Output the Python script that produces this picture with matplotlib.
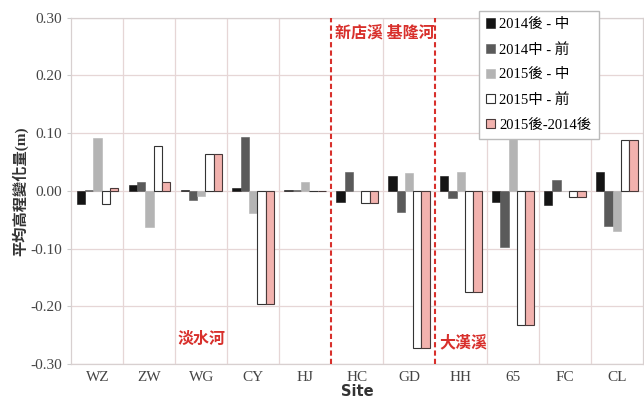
import numpy as np
import matplotlib.pyplot as plt
from matplotlib.ticker import MultipleLocator, FixedLocator

plt.rcParams['font.family'] = ['Liberation Serif', 'Noto Sans CJK TC']

# sites along the rivers
sites = ['WZ', 'ZW', 'WG', 'CY', 'HJ', 'HC', 'GD', 'HH', '65', 'FC', 'CL']

# mean elevation change (m) for each period
d14_late_mid = [-0.023, 0.010, 0.001, 0.005, 0.002, -0.019, 0.026, 0.026, -0.020, -0.024, 0.032]
d14_mid_pre = [0.002, 0.016, -0.016, 0.0925, 0.001, 0.032, -0.036, -0.012, -0.097, 0.019, -0.061]
d15_late_mid = [0.091, -0.063, -0.009, -0.039, 0.016, 0.0, 0.031, 0.032, 0.092, 0.0, -0.069]
d15_mid_pre = [-0.023, 0.077, 0.063, -0.196, 0.0, -0.021, -0.273, -0.176, -0.232, -0.010, 0.088]
d15_14_late = [0.005, 0.016, 0.063, -0.196, 0.0, -0.021, -0.273, -0.176, -0.232, -0.010, 0.088]

series = [d14_late_mid, d14_mid_pre, d15_late_mid, d15_mid_pre, d15_14_late]
labels = ['2014後 - 中', '2014中 - 前', '2015後 - 中', '2015中 - 前', '2015後-2014後']
faces = ['#141414', '#5a5a5a', '#b4b4b4', '#ffffff', '#f2b2ae']
edges = ['#141414', '#5a5a5a', '#b4b4b4', '#333333', '#4a3a3a']

red = '#d8302c'

fig = plt.figure(figsize=(6.44, 3.98), dpi=100)
ax = fig.add_axes([0.111, 0.0855, 0.887, 0.870])

x = np.arange(len(sites))
w = 0.16
for i, vals in enumerate(series):
    ax.bar(x + (i - 2) * w, vals, w, color=faces[i], edgecolor=edges[i],
           linewidth=0.8 if i >= 3 else 0.4, label=labels[i], zorder=3)

ax.set_xlim(-0.5, len(sites) - 0.5)
ax.set_ylim(-0.30, 0.30)
ax.yaxis.set_major_locator(MultipleLocator(0.10))
ax.yaxis.set_major_formatter(lambda v, p: f'{v:.2f}')
ax.set_xticks(x)
ax.set_xticklabels(sites)
ax.xaxis.set_minor_locator(FixedLocator([0.5, 1.5, 2.5, 3.5, 5.5, 7.5, 8.5, 9.5]))

ax.grid(axis='y', which='major', color='#e6d6d6', linewidth=0.9, zorder=0)
ax.grid(axis='x', which='minor', color='#e6d6d6', linewidth=0.9, zorder=0)
ax.tick_params(axis='x', which='both', length=0, labelsize=11, colors='#444444', pad=5)
ax.tick_params(axis='y', length=3, color='#cccccc', labelsize=11, colors='#444444')

for s in ax.spines.values():
    s.set_color('#d8d0d0')
    s.set_linewidth(0.9)

# river boundaries
for xb in [4.5, 6.5]:
    ax.axvline(xb, color=red, linestyle=(0, (2.5, 1.5)), linewidth=1.5, zorder=4)

cjk = ['Noto Sans CJK TC', 'DejaVu Sans']
ax.text(2.0, -0.257, '淡水河', color=red, fontsize=11.5, fontweight='bold',
        family=cjk, ha='center', va='center')
ax.text(5.54, 0.274, '新店溪 基隆河', color=red, fontsize=11.5, fontweight='bold',
        family=cjk, ha='center', va='center')
ax.text(7.05, -0.262, '大漢溪', color=red, fontsize=11.5, fontweight='bold',
        family=cjk, ha='center', va='center')

ax.set_ylabel('平均高程變化量(m)', fontsize=11, fontweight='bold', color='#333333', labelpad=2)
ax.set_xlabel('Site', fontsize=10.5, fontweight='bold', family='DejaVu Sans',
              color='#333333', labelpad=0)

leg = ax.legend(loc='upper right', bbox_to_anchor=(0.923, 1.02), borderaxespad=0,
                fontsize=10.5, handlelength=0.6, handleheight=0.6, handletextpad=0.3,
                labelspacing=0.8, borderpad=0.5, fancybox=False, framealpha=1,
                edgecolor='#bbbbbb')
leg.set_zorder(5)

fig.savefig('out.png', dpi=100)
